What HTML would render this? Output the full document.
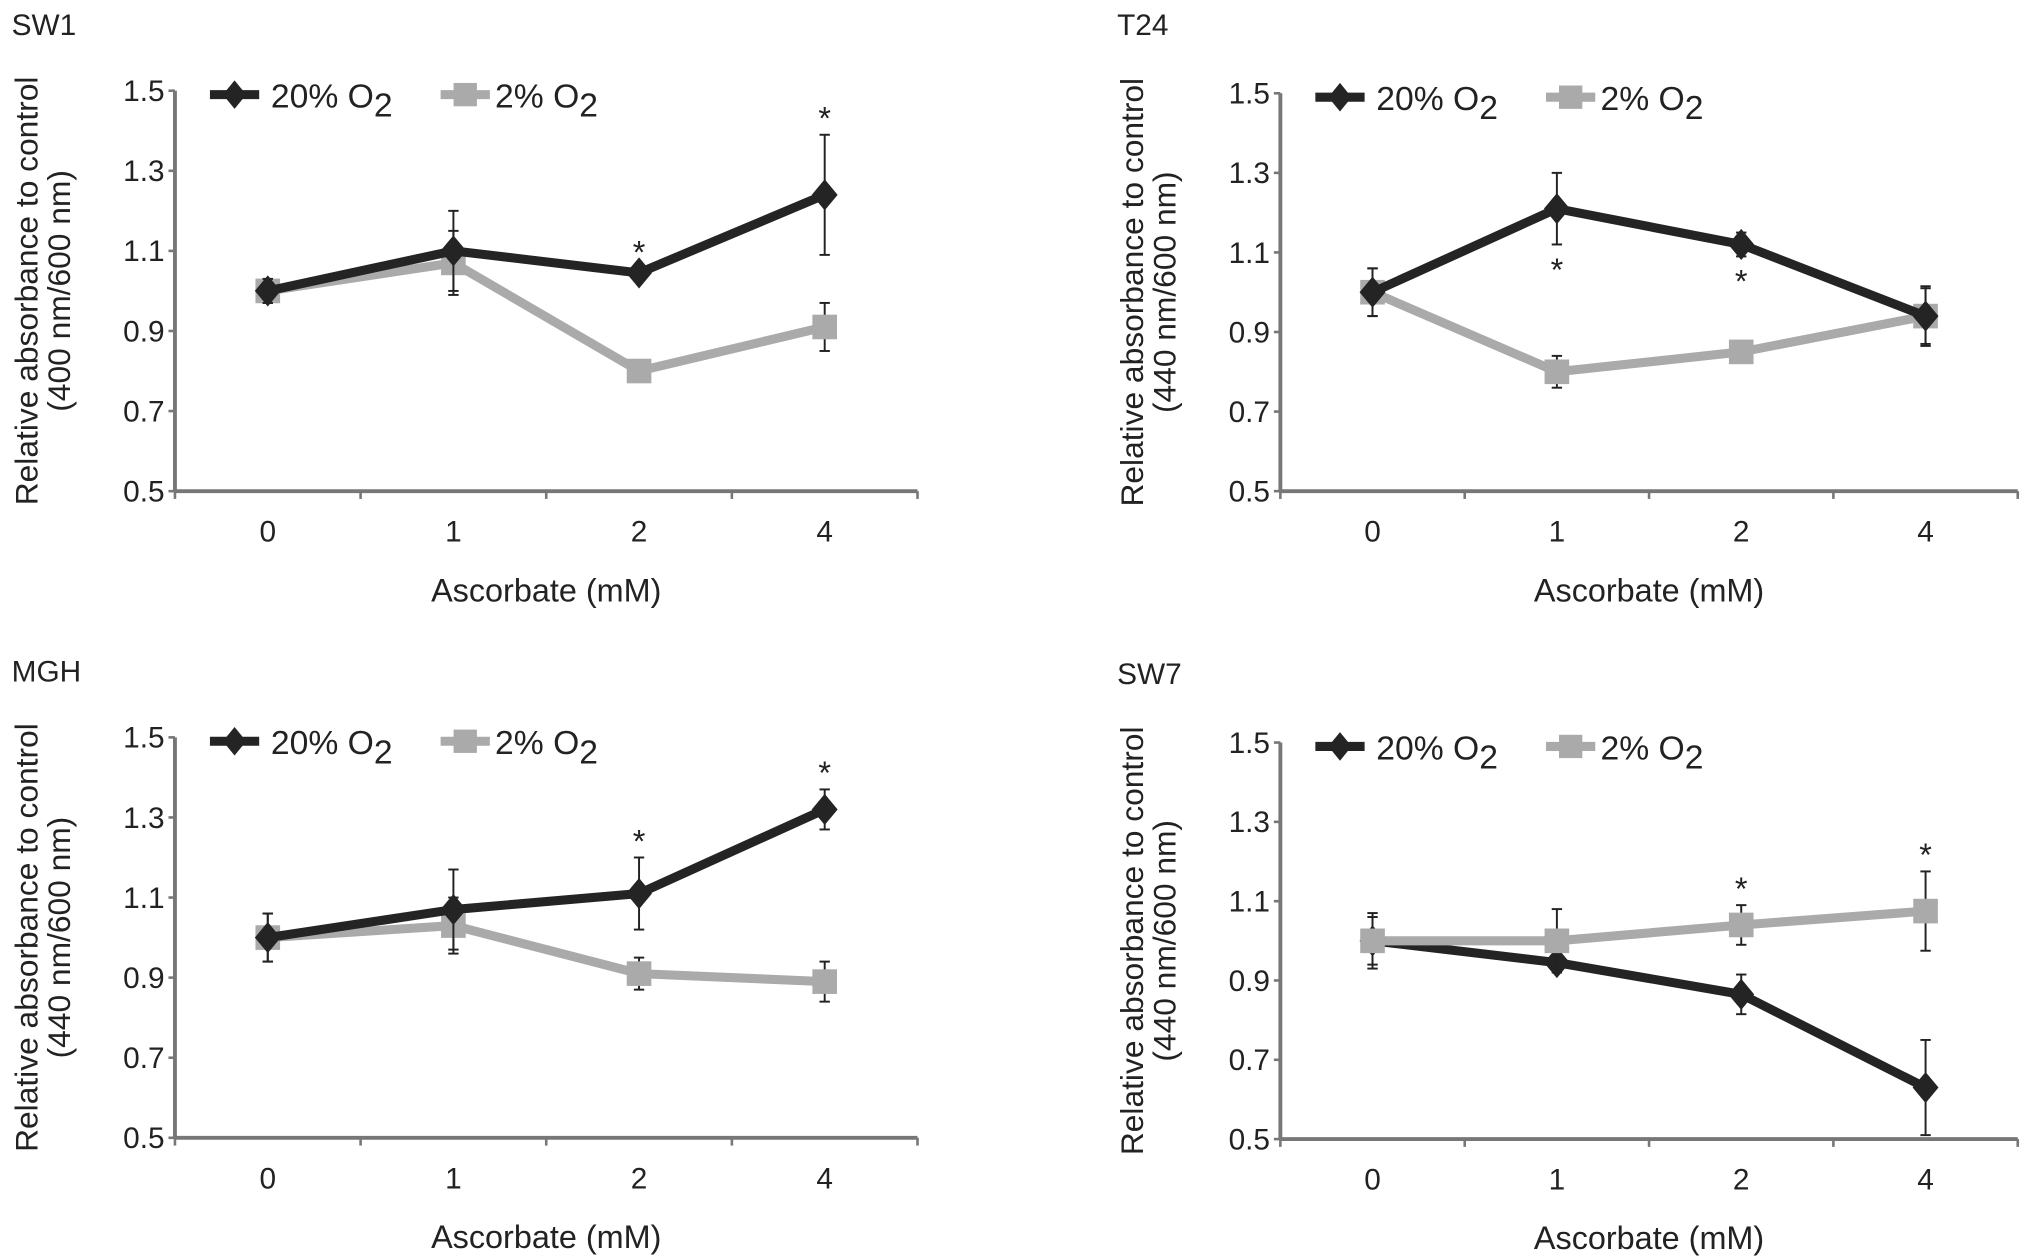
<!DOCTYPE html>
<html><head><meta charset="utf-8"><style>
html,body{margin:0;padding:0;background:#fff;}
svg{display:block;font-family:"Liberation Sans",Arial,sans-serif;}
</style></head><body>
<svg id="fig" width="2032" height="1260" viewBox="0 0 1568 972.3" preserveAspectRatio="none"></svg>
<script>
const categories = ["0","1","2","4"];
const yTicks = [0.5,0.7,0.9,1.1,1.3,1.5];
const titles = ["SW1","T24","MGH","SW7"];
const yUnits = ["(400 nm/600 nm)","(440 nm/600 nm)","(440 nm/600 nm)","(440 nm/600 nm)"];
const sw1High = [1.0,1.10,1.045,1.24];
const sw1HighErr = [0.03,0.10,0.01,0.15];
const sw1Low = [1.0,1.07,0.80,0.91];
const sw1LowErr = [0.03,0.08,0.01,0.06];
const t24High = [1.0,1.21,1.12,0.94];
const t24HighErr = [0.06,0.09,0.03,0.07];
const t24Low = [1.0,0.80,0.85,0.94];
const t24LowErr = [0.06,0.04,0.01,0.075];
const mghHigh = [1.0,1.07,1.11,1.32];
const mghHighErr = [0.06,0.10,0.09,0.05];
const mghLow = [1.0,1.03,0.91,0.89];
const mghLowErr = [0.06,0.07,0.04,0.05];
const sw7High = [1.0,0.945,0.865,0.63];
const sw7HighErr = [0.07,0.02,0.05,0.12];
const sw7Low = [1.0,1.0,1.04,1.075];
const sw7LowErr = [0.06,0.08,0.05,0.10];
const stars = [[2,3],[1,2],[2,3],[2,3]];
const starBelow = [false,true,false,false];
const starOnLow = [false,false,false,true];

const NS="http://www.w3.org/2000/svg";
const svg=document.getElementById('fig');
function mk(tag,attrs,parent){const e=document.createElementNS(NS,tag);for(const k in attrs)e.setAttribute(k,attrs[k]);(parent||svg).appendChild(e);return e;}
const panels=[
 {ox:0,oy:0,ax:135,top:70,bot:379,end:708,high:sw1High,he:sw1HighErr,low:sw1Low,le:sw1LowErr},
 {ox:853,oy:0,ax:135,top:72,bot:379,end:704,high:t24High,he:t24HighErr,low:t24Low,le:t24LowErr},
 {ox:0,oy:499,ax:135,top:70,bot:379,end:708,high:mghHigh,he:mghHighErr,low:mghLow,le:mghLowErr},
 {ox:853,oy:501,ax:135,top:72,bot:378,end:704,high:sw7High,he:sw7HighErr,low:sw7Low,le:sw7LowErr}
];
panels.forEach((p,pi)=>{
 const g=mk('g',{transform:`translate(${p.ox},${p.oy})`});
 
 
 const yS=v=>p.bot-(v-0.5)/(1.0)*(p.bot-p.top);
 const band=(p.end-p.ax)/categories.length;
 const xS=i=>p.ax+band*(i+0.5);
 const t=mk('text',{x:9,y:27,'font-size':23,fill:'#222'},g);t.textContent=titles[pi];
 
 const yt=mk('text',{transform:`translate(29,${(p.top+p.bot)/2}) rotate(-90)`,'text-anchor':'middle','font-size':24.5,fill:'#222'},g);
 yt.textContent='Relative absorbance to control';
 
 const yt2=mk('text',{transform:`translate(54,${(p.top+p.bot)/2}) rotate(-90)`,'text-anchor':'middle','font-size':24.5,fill:'#222'},g);
 yt2.textContent=yUnits[pi];
 
 mk('line',{x1:p.ax,y1:p.top,x2:p.ax,y2:p.bot,stroke:'#777','stroke-width':3},g);
 mk('line',{x1:p.ax,y1:p.bot,x2:p.end,y2:p.bot,stroke:'#777','stroke-width':3},g);
 yTicks.forEach(v=>{
  mk('line',{x1:p.ax-5,y1:yS(v),x2:p.ax,y2:yS(v),stroke:'#777','stroke-width':2},g);
  const l=mk('text',{x:p.ax-8,y:yS(v)+8,'text-anchor':'end','font-size':23,fill:'#222'},g);l.textContent=v.toFixed(1);
  
 });
 for(let i=0;i<=categories.length;i++) mk('line',{x1:p.ax+band*i,y1:p.bot,x2:p.ax+band*i,y2:p.bot+6,stroke:'#777','stroke-width':2},g);
 categories.forEach((c,i)=>{const l=mk('text',{x:xS(i),y:p.bot+39,'text-anchor':'middle','font-size':23,fill:'#222'},g);l.textContent=c;
  });
 const xt=mk('text',{x:(p.ax+p.end)/2,y:p.bot+85,'text-anchor':'middle','font-size':25,fill:'#222'},g);xt.textContent='Ascorbate (mM)';
 
 function series(vals,errs,color,shape,name){
  const sg=mk('g',{},g);
  
  vals.forEach((v,i)=>{const x=xS(i);
   mk('line',{x1:x,y1:yS(v-errs[i]),x2:x,y2:yS(v+errs[i]),stroke:'#222','stroke-width':1.5},sg);
   mk('line',{x1:x-4,y1:yS(v-errs[i]),x2:x+4,y2:yS(v-errs[i]),stroke:'#222','stroke-width':1.5},sg);
   mk('line',{x1:x-4,y1:yS(v+errs[i]),x2:x+4,y2:yS(v+errs[i]),stroke:'#222','stroke-width':1.5},sg);});
  mk('polyline',{points:vals.map((v,i)=>xS(i)+','+yS(v)).join(' '),fill:'none',stroke:color,'stroke-width':7,'stroke-linejoin':'round'},sg);
  vals.forEach((v,i)=>{const x=xS(i),y=yS(v);
   if(shape==='d') mk('polygon',{points:`${x},${y-12} ${x+10},${y} ${x},${y+12} ${x-10},${y}`,fill:color},sg);
   else mk('rect',{x:x-9.5,y:y-9.5,width:19,height:19,fill:color},sg);});
 }
 if(pi===3){series(p.high,p.he,'#242424','d','series-20pct-o2');series(p.low,p.le,'#aaaaaa','s','series-2pct-o2');}
 else{series(p.low,p.le,'#aaaaaa','s','series-2pct-o2');series(p.high,p.he,'#242424','d','series-20pct-o2');}
 stars[pi].forEach(i=>{
  const vals=starOnLow[pi]?p.low:p.high, errs=starOnLow[pi]?p.le:p.he;
  const y=starBelow[pi]?yS(vals[i]-errs[i])+28:yS(vals[i]+errs[i])-4;
  const s=mk('text',{x:xS(i),y:y,'text-anchor':'middle','font-size':25,fill:'#222'},g);s.textContent='*';
  
 });
 const lg=mk('g',{},g);
 
 const ly=p.top+3, lx=p.ax+27;
 mk('line',{x1:lx,y1:ly,x2:lx+38,y2:ly,stroke:'#242424','stroke-width':7},lg);
 mk('polygon',{points:`${lx+19},${ly-11} ${lx+28},${ly} ${lx+19},${ly+11} ${lx+10},${ly}`,fill:'#242424'},lg);
 const t1=mk('text',{x:lx+47,y:ly+10,'font-size':26,fill:'#222'},lg);t1.innerHTML='20% O<tspan dy="7" font-size="26">2</tspan>';
 
 mk('line',{x1:lx+178,y1:ly,x2:lx+216,y2:ly,stroke:'#aaaaaa','stroke-width':7},lg);
 mk('rect',{x:lx+188,y:ly-9,width:18,height:18,fill:'#aaaaaa'},lg);
 const t2=mk('text',{x:lx+220,y:ly+10,'font-size':26,fill:'#222'},lg);t2.innerHTML='2% O<tspan dy="7" font-size="26">2</tspan>';
 
});
</script>
</body></html>
